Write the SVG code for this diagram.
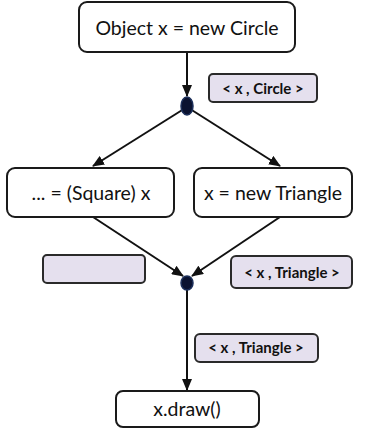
<svg xmlns="http://www.w3.org/2000/svg" width="366" height="430" viewBox="0 0 366 430">
<style>
.node{fill:#fff;stroke:#1a1a1a;stroke-width:2}
.lbl{fill:#e5e0ee;stroke:#2a2a2a;stroke-width:2}
.t{font-family:Lato,"Open Sans",sans-serif;font-size:19.5px;fill:#111;text-anchor:middle}
.s{font-family:Lato,"Open Sans",sans-serif;font-size:15px;fill:#111;text-anchor:middle;font-weight:bold}
.c{stroke:#111;stroke-width:2;fill:none}
.dot{fill:#0a1230;stroke:#1c2f5a;stroke-width:1.5}
</style>
<defs>
<marker id="ah" markerWidth="12" markerHeight="10" refX="11" refY="5" orient="auto" markerUnits="userSpaceOnUse">
<path d="M0,0 L12,5 L0,10 z" fill="#111"/>
</marker>
</defs>
<g id="connectors">
<line class="c" x1="187" y1="52" x2="187" y2="96" marker-end="url(#ah)"/>
<line class="c" x1="187" y1="107" x2="93" y2="166" marker-end="url(#ah)"/>
<line class="c" x1="187" y1="107" x2="280" y2="166" marker-end="url(#ah)"/>
<line class="c" x1="93" y1="217" x2="183" y2="276" marker-end="url(#ah)"/>
<line class="c" x1="280" y1="217" x2="192" y2="276" marker-end="url(#ah)"/>
<line class="c" x1="187" y1="288" x2="187" y2="390" marker-end="url(#ah)"/>
</g>
<g id="n1">
<rect class="node" x="79" y="2" width="216" height="50" rx="8"/>
<text class="t" x="187" y="35">Object x = new Circle</text>
</g>
<g id="j1">
<ellipse class="dot" cx="187" cy="106" rx="6" ry="9"/>
</g>
<g id="l1">
<rect class="lbl" x="209" y="74" width="108" height="28" rx="4"/>
<text class="s" x="263" y="94">&lt; x , Circle &gt;</text>
</g>
<g id="n2">
<rect class="node" x="7" y="168" width="167" height="49" rx="8"/>
<text class="t" x="91" y="200">...  = (Square) x</text>
</g>
<g id="n3">
<rect class="node" x="194" y="168" width="158" height="49" rx="8"/>
<text class="t" x="273" y="200">x = new Triangle</text>
</g>
<g id="l2">
<rect class="lbl" x="43" y="255" width="102" height="28" rx="4"/>
</g>
<g id="l3">
<rect class="lbl" x="231" y="256" width="121" height="32" rx="5"/>
<text class="s" x="292" y="278">&lt; x , Triangle &gt;</text>
</g>
<g id="j2">
<ellipse class="dot" cx="187" cy="283" rx="6" ry="7"/>
</g>
<g id="l4">
<rect class="lbl" x="195" y="334" width="123" height="28" rx="5"/>
<text class="s" x="256" y="353">&lt; x , Triangle &gt;</text>
</g>
<g id="n4">
<rect class="node" x="116" y="391" width="143" height="36" rx="7"/>
<text class="t" x="187" y="416">x.draw()</text>
</g>
</svg>
